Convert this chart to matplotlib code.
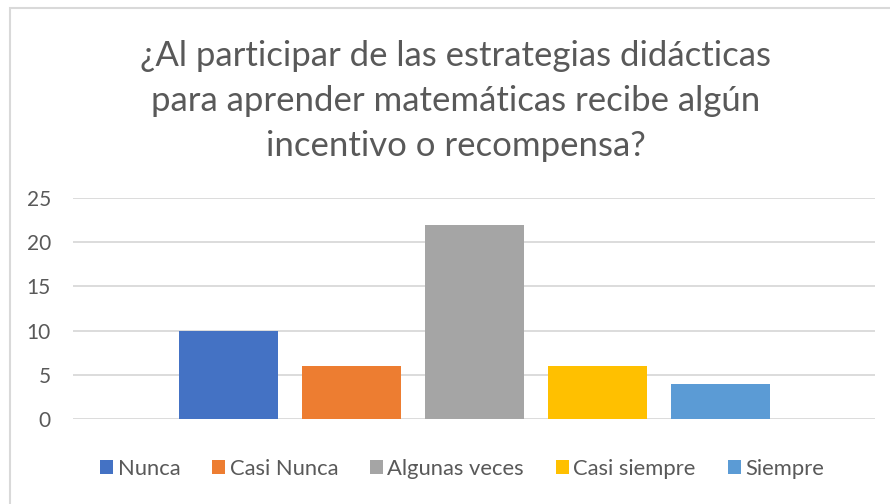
import matplotlib
matplotlib.use("Agg")
import matplotlib.pyplot as plt
from matplotlib.patches import Rectangle

# data
categories = ["Nunca", "Casi Nunca", "Algunas veces", "Casi siempre", "Siempre"]
values = [10, 6, 22, 6, 4]
colors = ["#4472C4", "#ED7D31", "#A5A5A5", "#FFC000", "#5B9BD5"]
yticks = [0, 5, 10, 15, 20, 25]
title = ("¿Al participar de las estrategias didácticas\n"
         "para aprender matemáticas recibe algún\n"
         "incentivo o recompensa?")

TEXT = "#595959"
GRID = "#D9D9D9"

plt.rcParams["font.family"] = ["Lato", "DejaVu Sans"]

W, H = 890, 504
fig = plt.figure(figsize=(W / 100, H / 100), dpi=100)
fig.patch.set_facecolor("white")

# chart border (Excel chart area), runs off the bottom/right of the crop
fig.add_artist(Rectangle((10 / W, -0.05), 1.1, 1 - 8 / H + 0.05,
                         transform=fig.transFigure, fill=False,
                         edgecolor=GRID, linewidth=1.5))

ax = fig.add_axes([73 / W, 1 - 419 / H, 802 / W, 221 / H])
xs = list(range(len(categories)))
for x, v, c, lab in zip(xs, values, colors, categories):
    ax.bar(x, v, width=0.8, color=c, label=lab, zorder=2)

ax.set_xlim(-1.262, 5.254)
ax.set_ylim(0, 25)
ax.set_yticks(yticks)
ax.set_xticks([])
ax.grid(axis="y", color=GRID, linewidth=1.3, zorder=0)
for s in ax.spines.values():
    s.set_visible(False)
ax.tick_params(axis="y", length=0, pad=16, labelsize=15, labelcolor=TEXT)

fig.text(456 / W, 1 - 101 / H, title, ha="center", va="center",
         fontsize=25, color=TEXT, linespacing=1.5)

fig.legend(loc="center", bbox_to_anchor=(462 / W, 1 - 469 / H), ncol=5,
           frameon=False, fontsize=15.8, labelcolor=TEXT,
           handlelength=0.6, handleheight=0.6, handletextpad=0.2,
           columnspacing=1.45)

fig.savefig("out.png", dpi=100, facecolor="white")
